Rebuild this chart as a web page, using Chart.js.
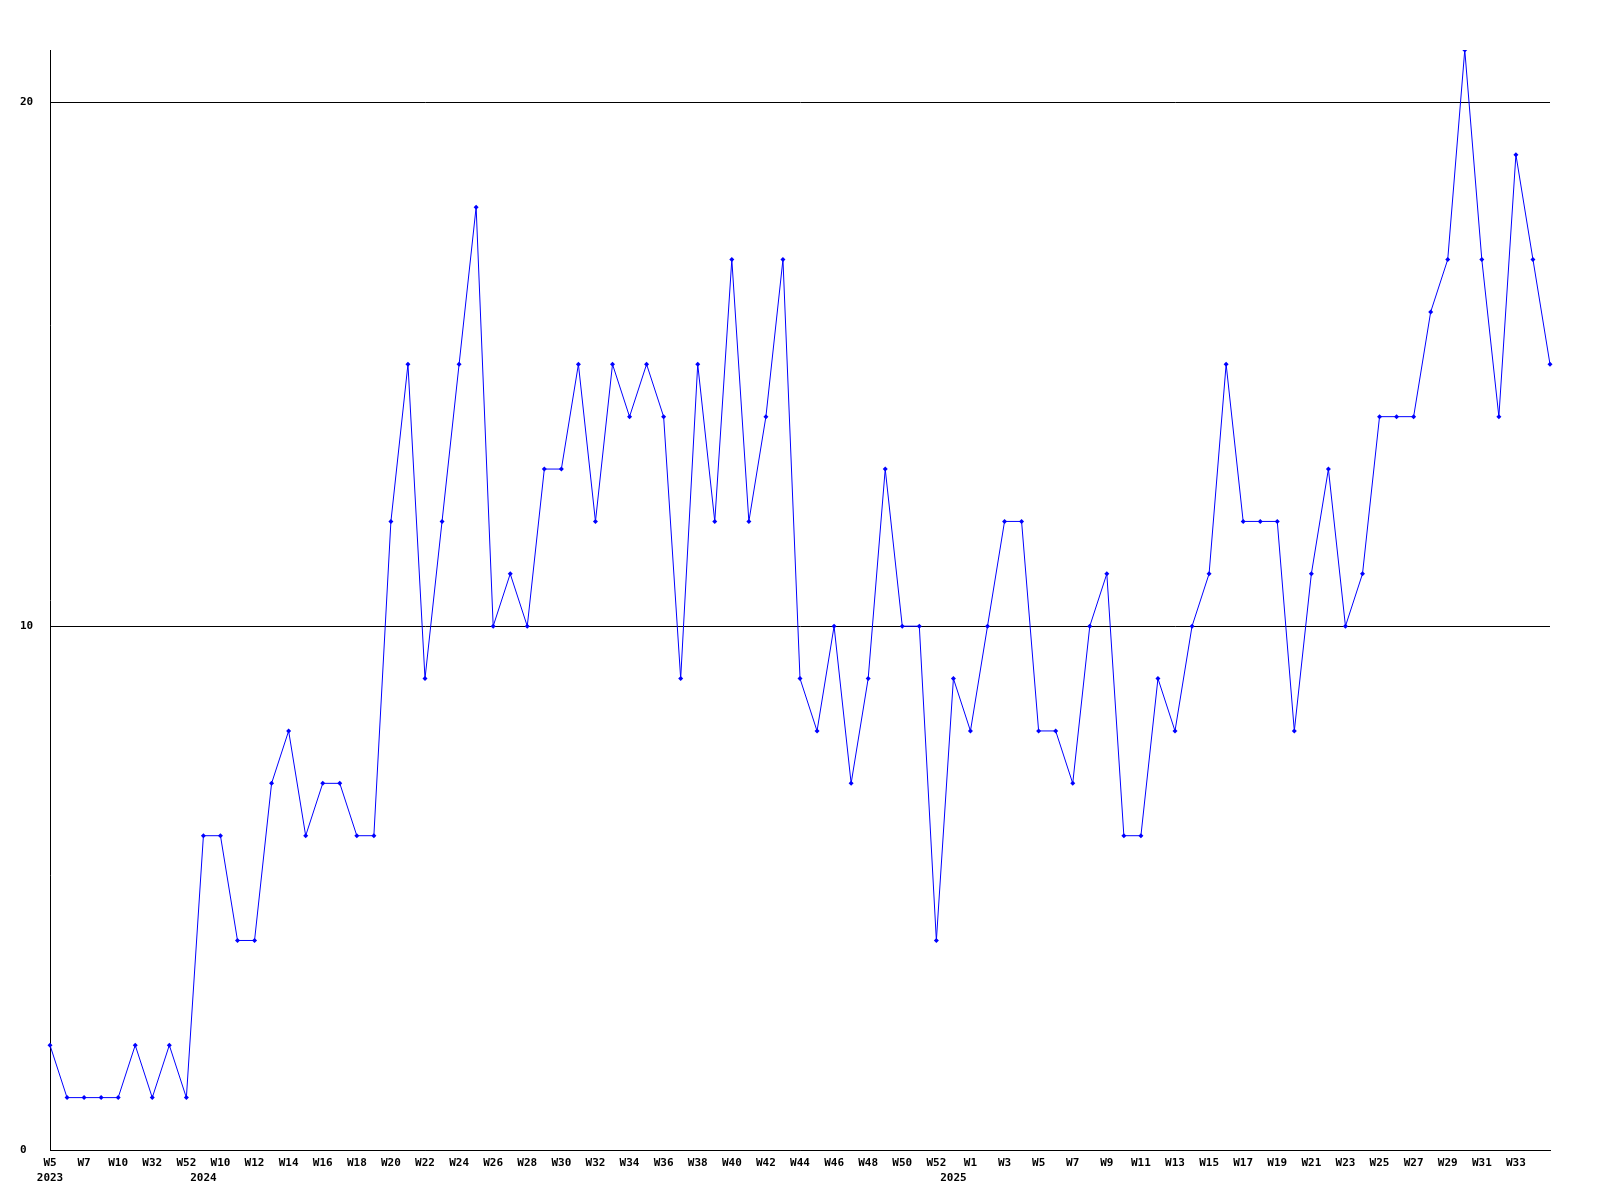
<!DOCTYPE html>
<html>
<head>
<meta charset="utf-8">
<script src="https://cdn.jsdelivr.net/npm/chart.js@4"></script>
<style>
  html, body { margin: 0; padding: 0; background: #fff; }
  canvas { display: block; }
</style>
</head>
<body>
<canvas id="weekChart" width="1600" height="1200"></canvas>
<script>
// categories: "year week"
const categories = [
  "2023 W5", "2023 W6", "2023 W7", "2023 W8", "2023 W10", "2023 W20", "2023 W32", "2023 W40", "2023 W52",
  "2024 W9", "2024 W10", "2024 W11", "2024 W12", "2024 W13", "2024 W14", "2024 W15", "2024 W16",
  "2024 W17", "2024 W18", "2024 W19", "2024 W20", "2024 W21", "2024 W22", "2024 W23", "2024 W24",
  "2024 W25", "2024 W26", "2024 W27", "2024 W28", "2024 W29", "2024 W30", "2024 W31", "2024 W32",
  "2024 W33", "2024 W34", "2024 W35", "2024 W36", "2024 W37", "2024 W38", "2024 W39", "2024 W40",
  "2024 W41", "2024 W42", "2024 W43", "2024 W44", "2024 W45", "2024 W46", "2024 W47", "2024 W48",
  "2024 W49", "2024 W50", "2024 W51", "2024 W52",
  "2025 W0", "2025 W1", "2025 W2", "2025 W3", "2025 W4", "2025 W5", "2025 W6", "2025 W7",
  "2025 W8", "2025 W9", "2025 W10", "2025 W11", "2025 W12", "2025 W13", "2025 W14", "2025 W15",
  "2025 W16", "2025 W17", "2025 W18", "2025 W19", "2025 W20", "2025 W21", "2025 W22", "2025 W23",
  "2025 W24", "2025 W25", "2025 W26", "2025 W27", "2025 W28", "2025 W29", "2025 W30", "2025 W31",
  "2025 W32", "2025 W33", "2025 W34", "2025 W35"
];

const counts = [
  2, 1, 1, 1, 1, 2, 1, 2, 1,
  6, 6, 4, 4, 7, 8, 6, 7, 7, 6, 6, 12, 15, 9, 12, 15, 18, 10, 11, 10, 13, 13, 15, 12,
  15, 14, 15, 14, 9, 15, 12, 17, 12, 14, 17, 9, 8, 10, 7, 9, 13, 10, 10, 4,
  9, 8, 10, 12, 12, 8, 8, 7, 10, 11, 6, 6, 9, 8, 10, 11, 15, 12, 12, 12,
  8, 11, 13, 10, 11, 14, 14, 14, 16, 17, 21, 17, 14, 19, 17, 15
];

const yTicks = [0, 10, 20];

const tickFont = { family: "'DejaVu Sans Mono', monospace", size: 11, weight: "bold", lineHeight: 1.35 };

function xLabel(value, index) {
  const [yr, wk] = categories[index].split(" ");
  const prevYr = index > 0 ? categories[index - 1].split(" ")[0] : null;
  // every other week, last one left off (no room at the edge)
  const week = (index % 2 === 0 && index < categories.length - 1) ? wk : "";
  return yr !== prevYr ? [week, yr] : week;
}

const ctx = document.getElementById("weekChart").getContext("2d");
new Chart(ctx, {
  type: "line",
  data: {
    labels: categories,
    datasets: [{
      data: counts,
      borderColor: "#0000ff",
      backgroundColor: "#0000ff",
      borderWidth: 1,
      tension: 0,
      pointStyle: "rectRot",
      pointRadius: 2.5,
      pointBorderWidth: 0
    }]
  },
  options: {
    responsive: false,
    animation: false,
    devicePixelRatio: 1,
    layout: { padding: { left: 20, top: 50, right: 50, bottom: 0 } },
    plugins: { legend: { display: false }, tooltip: { enabled: false } },
    scales: {
      x: {
        offset: false,
        grid: { display: false, drawTicks: false },
        border: { display: true, color: "#000", width: 1 },
        ticks: {
          autoSkip: false,
          maxRotation: 0,
          minRotation: 0,
          padding: 6,
          color: "#000",
          font: tickFont,
          callback: xLabel
        },
        afterFit: scale => { scale.height = 50; }
      },
      y: {
        min: 0,
        max: 21,
        grid: { color: "#000", lineWidth: 1, drawTicks: false },
        border: { display: true, color: "#000", width: 1 },
        ticks: {
          stepSize: 10,
          includeBounds: false,
          crossAlign: "far",
          padding: 4,
          color: "#000",
          font: tickFont
        },
        afterBuildTicks: scale => { scale.ticks = yTicks.map(v => ({ value: v })); },
        afterFit: scale => { scale.width = 30; }
      }
    }
  }
});
</script>
</body>
</html>
